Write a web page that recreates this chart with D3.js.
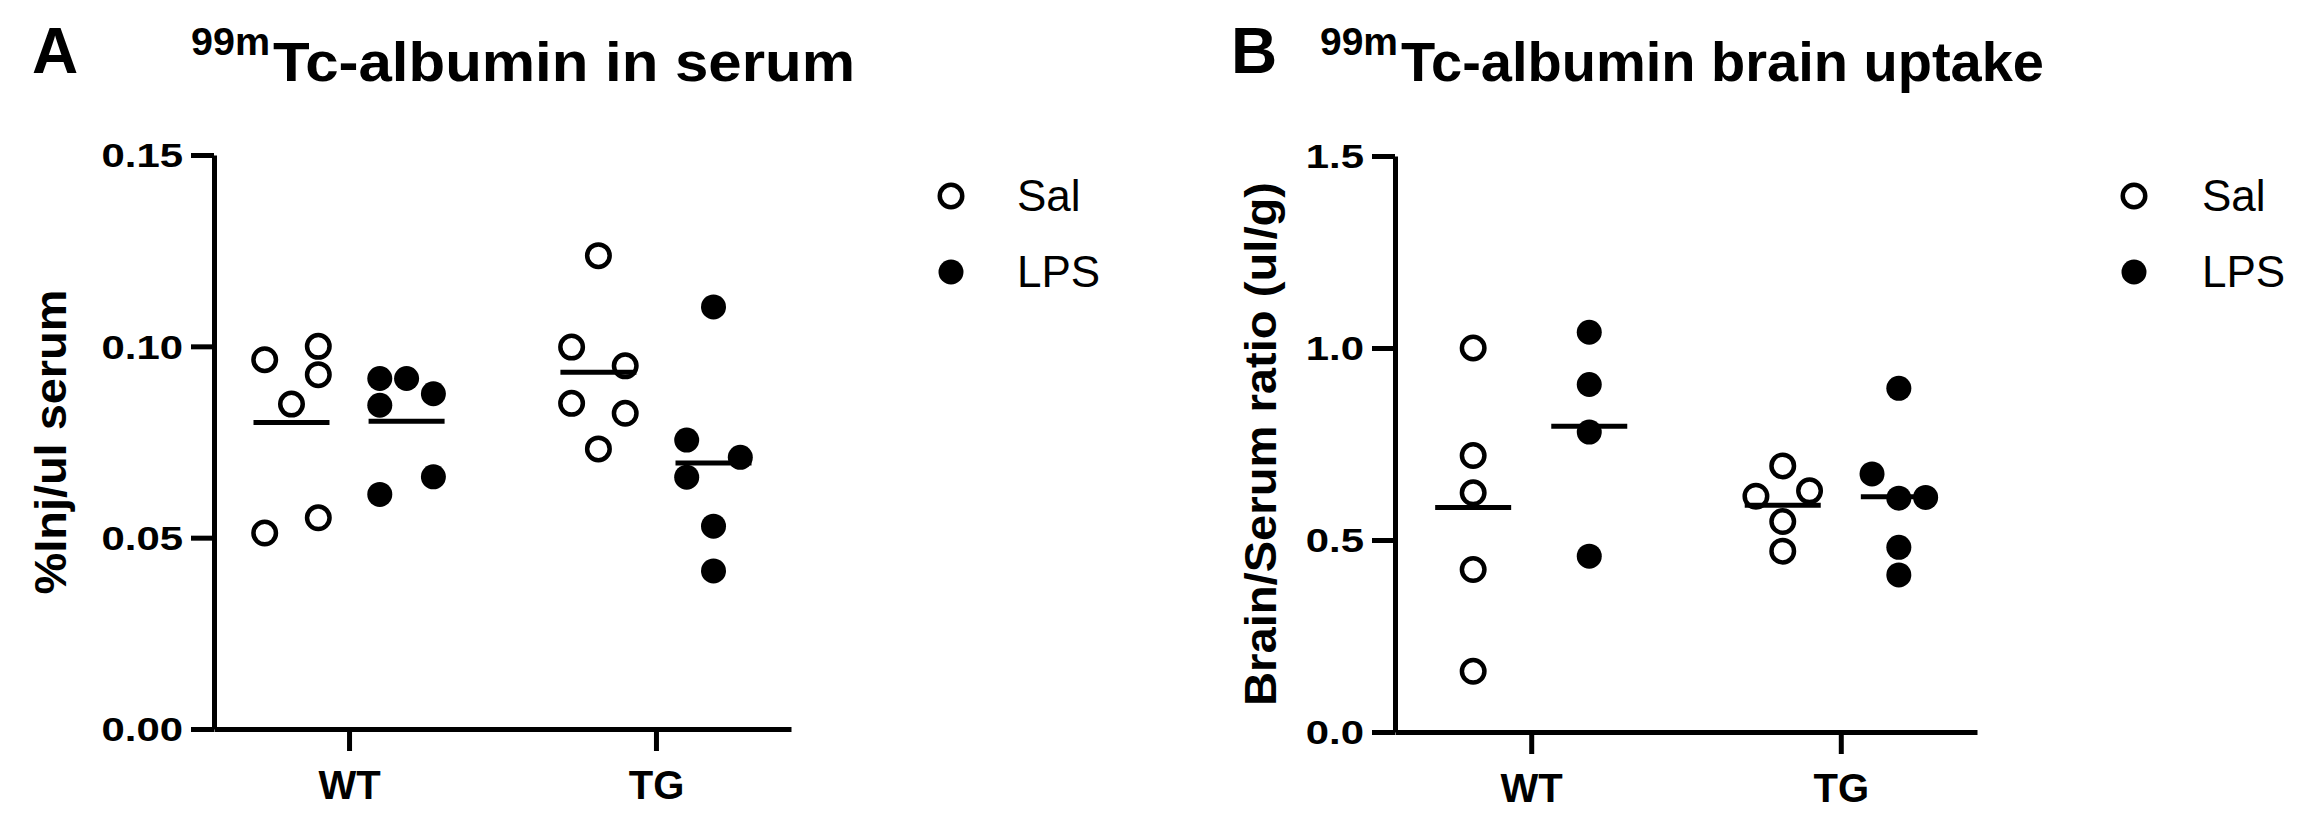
<!DOCTYPE html>
<html><head><meta charset="utf-8">
<script src="https://cdn.jsdelivr.net/npm/d3@7"></script>
<style>
body{margin:0;background:#fff}
svg{display:block}
text{font-family:"Liberation Sans", Arial, Helvetica, sans-serif; fill:#000}
</style>
</head><body>
<svg id="chart" width="2304" height="828"></svg>
<script>
// ---------------- data ----------------
const groups = ["WT", "TG"];
const treatments = ["Sal", "LPS"];

// Panel A: 99mTc-albumin in serum (%Inj/ul serum)
const serumWT_Sal = [0.100, 0.0965, 0.0926, 0.0849, 0.0552, 0.0512];
const serumWT_LPS = [0.0876, 0.0916, 0.0916, 0.0846, 0.0659, 0.0613];
const serumTG_Sal = [0.1237, 0.0949, 0.0998, 0.0825, 0.0851, 0.0732];
const serumTG_LPS = [0.1103, 0.0710, 0.0755, 0.0658, 0.0530, 0.0413];

// Panel B: 99mTc-albumin brain uptake (Brain/Serum ratio, ul/g)
const brainWT_Sal = [1.000, 0.720, 0.623, 0.423, 0.158];
const brainWT_LPS = [1.041, 0.905, 0.781, 0.458];
const brainTG_Sal = [0.628, 0.614, 0.693, 0.548, 0.471];
const brainTG_LPS = [0.895, 0.611, 0.672, 0.609, 0.481, 0.409];

const serumTicks = [0, 0.05, 0.10, 0.15];
const serumTickLabels = ["0.00", "0.05", "0.10", "0.15"];
const brainTicks = [0, 0.5, 1.0, 1.5];
const brainTickLabels = ["0.0", "0.5", "1.0", "1.5"];

const titleSup = "99m";
const titleA = "Tc-albumin in serum";
const titleB = "Tc-albumin brain uptake";
const yLabelA = "%Inj/ul serum";
const yLabelB = "Brain/Serum ratio (ul/g)";

// ---------------- layout ----------------
const panels = [
  { letter: "A", letterX: 32, supX: 191, supLen: 79, mainX: 273, mainLen: 582, title: titleA,
    yLabel: yLabelA, yLabelX: 66, yLabelLen: 305,
    left: 214, right: 791, top: 155, bottom: 729, domain: [0, 0.15],
    ticks: serumTicks, tickLabels: serumTickLabels,
    series: { WT: { Sal: serumWT_Sal, LPS: serumWT_LPS }, TG: { Sal: serumTG_Sal, LPS: serumTG_LPS } },
    legendX: 951, legendTextX: 1017 },
  { letter: "B", letterX: 1231, supX: 1320, supLen: 78, mainX: 1401, mainLen: 643, title: titleB,
    yLabel: yLabelB, yLabelX: 1276, yLabelLen: 524,
    left: 1395, right: 1977, top: 156, bottom: 732, domain: [0, 1.5],
    ticks: brainTicks, tickLabels: brainTickLabels,
    series: { WT: { Sal: brainWT_Sal, LPS: brainWT_LPS }, TG: { Sal: brainTG_Sal, LPS: brainTG_LPS } },
    legendX: 2134, legendTextX: 2202 }
];

const AXIS_W = 5;
const UNIT = 26.8;        // horizontal spacing of side-by-side symbols
const ROW_GAP = 24;       // values closer than this (px) share a row
const OPEN_R = 11.25, OPEN_SW = 4.5, FILL_R = 12.5;
const MEAN_HALF = 38;
const TICK_FS = 33, TICK_SCALE = 1.27;

const svg = d3.select("#chart");

// scatter spreading: points whose values lie close together form a chain (row);
// chain members are pushed alternately right/left (in data order), falling back
// to the centre when both sides are occupied.
function swarmOffsets(vals, yScale) {
  const n = vals.length;
  const py = vals.map(v => yScale(v));
  const byY = d3.range(n).sort((a, b) => d3.ascending(py[a], py[b]) || a - b);
  const chains = [];
  byY.forEach((i, k) => {
    if (k === 0 || py[i] - py[byY[k - 1]] >= ROW_GAP) chains.push([i]);
    else chains[chains.length - 1].push(i);
  });
  const off = new Array(n).fill(0);
  const placed = [];
  chains.forEach(ch => {
    if (ch.length === 1) { off[ch[0]] = 0; placed.push({ c: 0, y: py[ch[0]] }); return; }
    let s = 1;
    ch.slice().sort((a, b) => a - b).forEach(i => {
      const cands = [s, -s, 0, 2 * s, -2 * s];
      let chosen = 0;
      for (const c of cands) {
        const ok = placed.every(p => Math.hypot((p.c - c) * UNIT, p.y - py[i]) >= UNIT - 0.5);
        if (ok) { chosen = c; break; }
      }
      off[i] = chosen;
      placed.push({ c: chosen, y: py[i] });
      s = -s;
    });
  });
  return off;
}

function drawSymbol(sel, t) {
  if (t === "Sal") {
    sel.attr("r", OPEN_R).attr("fill", "#fff").attr("stroke", "#000").attr("stroke-width", OPEN_SW);
  } else {
    sel.attr("r", FILL_R).attr("fill", "#000").attr("stroke", "none");
  }
}

panels.forEach(p => {
  const g = svg.append("g");
  const y = d3.scaleLinear().domain(p.domain).range([p.bottom, p.top]);
  const x = d3.scalePoint().domain(groups).range([p.left, p.right]).padding(0.44);
  const step = x.step();
  const sub = d3.scalePoint().domain(treatments).range([-0.1875 * step, 0.1875 * step]);

  // panel letter & title
  g.append("text").attr("x", p.letterX).attr("y", 73)
    .attr("font-size", 64).attr("font-weight", "bold").text(p.letter);
  g.append("text").attr("x", p.supX).attr("y", 55)
    .attr("font-size", 38).attr("font-weight", "bold")
    .attr("textLength", p.supLen).attr("lengthAdjust", "spacingAndGlyphs").text(titleSup);
  g.append("text").attr("x", p.mainX).attr("y", 81)
    .attr("font-size", 56).attr("font-weight", "bold")
    .attr("textLength", p.mainLen).attr("lengthAdjust", "spacingAndGlyphs").text(p.title);

  // y axis
  const yAxis = d3.axisLeft(y).tickValues(p.ticks).tickSize(23).tickSizeOuter(0)
    .tickFormat((d, i) => p.tickLabels[i]);
  const ya = g.append("g").attr("transform", `translate(${p.left},0)`).call(yAxis);
  ya.select(".domain").attr("stroke", "#000").attr("stroke-width", AXIS_W);
  ya.selectAll(".tick line").attr("stroke", "#000").attr("stroke-width", AXIS_W);
  ya.selectAll(".tick text")
    .attr("x", -31 / TICK_SCALE).attr("dy", "0.36em")
    .attr("transform", `scale(${TICK_SCALE},1)`)
    .attr("font-size", TICK_FS).attr("font-weight", "bold")
    .attr("font-family", '"Liberation Sans", Arial, sans-serif').attr("fill", "#000");

  // x axis
  const xAxis = d3.axisBottom(x).tickSize(22).tickSizeOuter(0).tickPadding(20);
  const xa = g.append("g").attr("transform", `translate(0,${p.bottom})`).call(xAxis);
  xa.select(".domain").attr("stroke", "#000").attr("stroke-width", AXIS_W);
  xa.selectAll(".tick line").attr("stroke", "#000").attr("stroke-width", AXIS_W);
  xa.selectAll(".tick text")
    .attr("font-size", 40).attr("font-weight", "bold")
    .attr("font-family", '"Liberation Sans", Arial, sans-serif').attr("fill", "#000");

  // y label
  g.append("text")
    .attr("transform", `translate(${p.yLabelX},${(p.top + p.bottom) / 2}) rotate(-90)`)
    .attr("text-anchor", "middle").attr("font-size", 44).attr("font-weight", "bold")
    .attr("textLength", p.yLabelLen).attr("lengthAdjust", "spacingAndGlyphs")
    .text(p.yLabel);

  // points + mean lines
  groups.forEach(gr => {
    treatments.forEach(t => {
      const vals = p.series[gr][t];
      const cx = x(gr) + sub(t);
      const offs = swarmOffsets(vals, y);
      g.append("g").selectAll("circle").data(vals).join("circle")
        .attr("cx", (d, i) => cx + offs[i] * UNIT)
        .attr("cy", d => y(d))
        .call(drawSymbol, t);
      const m = d3.mean(vals);
      g.append("line")
        .attr("x1", cx - MEAN_HALF).attr("x2", cx + MEAN_HALF)
        .attr("y1", y(m)).attr("y2", y(m))
        .attr("stroke", "#000").attr("stroke-width", AXIS_W);
    });
  });

  // legend
  const lg = g.append("g");
  treatments.forEach((t, i) => {
    const ly = 196 + i * 76;
    lg.append("circle").attr("cx", p.legendX).attr("cy", ly).call(drawSymbol, t);
    lg.append("text").attr("x", p.legendTextX).attr("y", ly + 14.5)
      .attr("font-size", 44).text(t);
  });
});
</script>
</body></html>
